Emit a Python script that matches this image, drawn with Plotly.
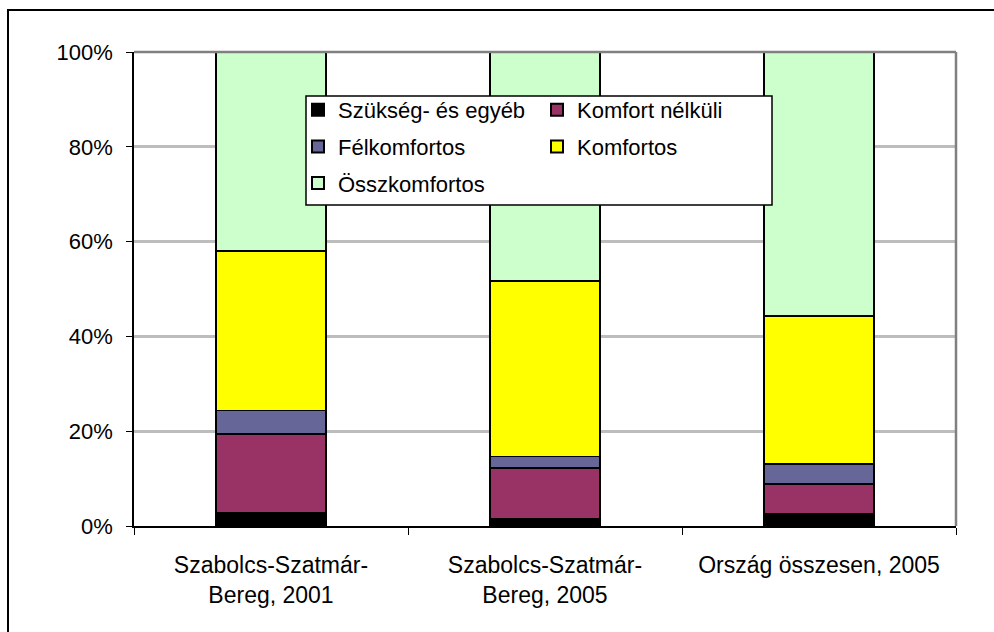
import plotly.graph_objects as go

categories = ["Szabolcs-Szatmár-<br>Bereg, 2001", "Szabolcs-Szatmár-<br>Bereg, 2005", "Ország összesen, 2005"]
series_names = ["Szükség- és egyéb", "Komfort nélküli", "Félkomfortos", "Komfortos", "Összkomfortos"]
szukseg = [2.7, 1.5, 2.6]
komfort_nelkuli = [16.7, 10.7, 6.3]
felkomfortos = [5.0, 2.5, 4.2]
komfortos = [33.6, 37.0, 31.2]
osszkomfortos = [42.0, 48.3, 55.7]
colors = ["#000000", "#993366", "#666699", "#FFFF00", "#CCFFCC"]
y_ticks = [0, 20, 40, 60, 80, 100]
y_tick_labels = ["0%", "20%", "40%", "60%", "80%", "100%"]

values = [szukseg, komfort_nelkuli, felkomfortos, komfortos, osszkomfortos]
# legend column for each series (two-column legend as in the original)
legend_ids = ["legend", "legend2", "legend", "legend2", "legend"]

W, H = 994, 632
L, R, T, B = 134, 38, 52, 106
pw, ph = W - L - R, H - T - B

def px_x(x):
    return (x - L) / pw

def px_y(y):
    return (H - B - y) / ph

fig = go.Figure()
for i, (name, vals, col, lg) in enumerate(zip(series_names, values, colors, legend_ids)):
    fig.add_trace(go.Bar(
        x=categories, y=vals, name=name, legend=lg, legendgroup=f"g{i}",
        marker=dict(color=col, line=dict(color="#000000", width=1.5)),
    ))

font = "Liberation Sans, Arial, sans-serif"
leg_common = dict(
    orientation="v", traceorder="grouped", tracegroupgap=5,
    yanchor="top", xanchor="left",
    bgcolor="rgba(0,0,0,0)", borderwidth=0,
    font=dict(size=22), itemsizing="constant",
)
fig.update_layout(
    width=W, height=H,
    margin=dict(l=L, r=R, t=T, b=B),
    barmode="stack", bargap=0.6,
    paper_bgcolor="white", plot_bgcolor="white",
    font=dict(family=font, size=22, color="#000000"),
    xaxis=dict(
        showline=True, linecolor="#000000", linewidth=1.5,
        ticks="outside", tickson="boundaries", ticklen=7, tickcolor="#000000",
        tickfont=dict(size=23), showgrid=False, ticklabelstandoff=18,
    ),
    yaxis=dict(
        range=[0, 100], tickvals=y_ticks, ticktext=y_tick_labels,
        showline=True, linecolor="#000000", linewidth=1.5,
        ticks="outside", ticklen=6, tickcolor="#000000",
        showgrid=True, gridcolor="#bdbdbd", gridwidth=2.5,
        zeroline=False, tickfont=dict(size=22), ticklabelstandoff=9,
    ),
    legend=dict(x=px_x(298), y=px_y(89), **leg_common),
    legend2=dict(x=px_x(537), y=px_y(89), **leg_common),
    showlegend=True,
    shapes=[
        dict(type="line", xref="paper", yref="paper", x0=0, x1=1, y0=1, y1=1,
             line=dict(color="#808080", width=2.5)),
        dict(type="line", xref="paper", yref="paper", x0=1, x1=1, y0=0, y1=1,
             line=dict(color="#808080", width=2.5)),
        dict(type="rect", xref="paper", yref="paper",
             x0=px_x(8), x1=1.3, y0=-0.5, y1=px_y(10),
             line=dict(color="#000000", width=2), fillcolor="rgba(0,0,0,0)", layer="below"),
        dict(type="rect", xref="paper", yref="paper",
             x0=px_x(306), x1=px_x(772), y0=px_y(205), y1=px_y(96),
             line=dict(color="#000000", width=1.5), fillcolor="white", layer="above"),
    ],
)

fig.write_html("out.html", config={"displayModeBar": False},
               post_script="document.body.style.margin='0';")
